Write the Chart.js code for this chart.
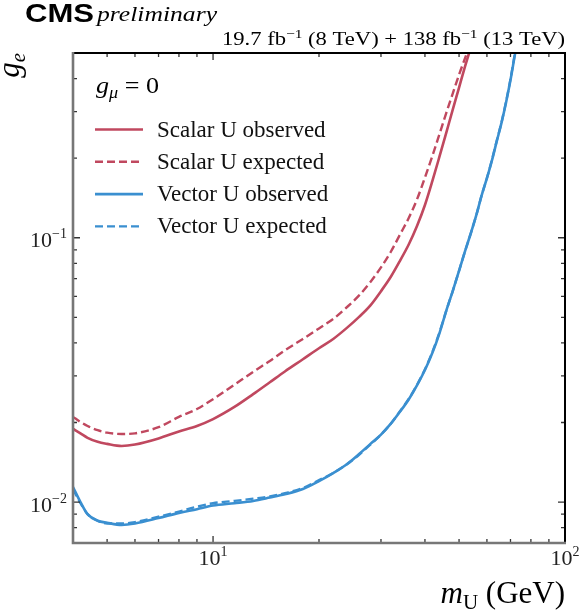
<!DOCTYPE html>
<html>
<head>
<meta charset="utf-8">
<script src="https://cdn.jsdelivr.net/npm/chart.js@4.4.1/dist/chart.umd.min.js"></script>
<style>
html, body { margin: 0; padding: 0; background: #fff; }
</style>
</head>
<body>
<canvas id="limits" width="580" height="614"></canvas>
<script>
// mass of U (GeV), shared by the four curves
var massU = [4.0, 4.2, 4.4, 4.7, 5.0, 5.5, 6.0, 7.0, 8.0, 9.0, 10, 11.5, 13, 14.5, 16, 18, 20, 22, 24, 26, 28, 30,
	32, 34, 36, 38, 40, 42, 44, 46, 48, 50, 52, 54, 56, 58, 60, 62, 64, 66, 68, 70, 72, 74];

// upper limits on g_e (null once the curve has left the plot)
var scalarObserved = [0.0189, 0.0182, 0.0175, 0.0169, 0.0166, 0.0163, 0.0165, 0.0174, 0.0185, 0.0194, 0.0206, 0.0229,
	0.0256, 0.0284, 0.0312, 0.0347, 0.0382, 0.0415, 0.0456, 0.0502, 0.0555, 0.0628, 0.0712, 0.0820, 0.0945, 0.111,
	0.133, 0.164, 0.203, 0.250, 0.306, 0.370, 0.445, 0.525, 0.62, null, null, null, null, null, null, null, null, null];
var scalarExpected = [0.0210, 0.0201, 0.0194, 0.0187, 0.0183, 0.0181, 0.0182, 0.0192, 0.0210, 0.0225, 0.0245, 0.0278,
	0.0311, 0.0342, 0.0375, 0.0414, 0.0454, 0.0494, 0.0546, 0.0605, 0.0680, 0.0772, 0.0885, 0.103, 0.119, 0.140,
	0.169, 0.204, 0.247, 0.297, 0.352, 0.414, 0.478, 0.55, 0.64, null, null, null, null, null, null, null, null, null];
var vectorObserved = [0.0114, 0.0100, 0.0090, 0.0085, 0.00835, 0.0082, 0.0083, 0.0087, 0.0091, 0.0094, 0.0097, 0.0099,
	0.0101, 0.0104, 0.0107, 0.0112, 0.0120, 0.0129, 0.0139, 0.0152, 0.0166, 0.0180, 0.0198, 0.0220, 0.0245, 0.0277,
	0.0316, 0.0367, 0.0436, 0.0530, 0.0630, 0.0750, 0.0890, 0.104, 0.122, 0.145, 0.168, 0.196, 0.232, 0.272, 0.325,
	0.395, 0.49, 0.60];
var vectorExpected = [0.0112, 0.0099, 0.0090, 0.0085, 0.0083, 0.0083, 0.0084, 0.0088, 0.0092, 0.0096, 0.0099, 0.0101,
	0.0103, 0.0105, 0.0108, 0.0113, 0.0121, 0.0129, 0.0139, 0.0151, 0.0165, 0.0180, 0.0198, 0.0221, 0.0246, 0.0278,
	0.0318, 0.0370, 0.0439, 0.0530, 0.0630, 0.0750, 0.0890, 0.104, 0.122, 0.145, 0.168, 0.197, 0.233, 0.273, 0.327,
	0.398, 0.495, 0.61];

// axis ticks: [mantissa, exponent] for the labelled decades
var xTickValues = [4, 5, 6, 7, 8, 9, 10, 20, 30, 40, 50, 60, 70, 80, 90, 100];
var xTickLabels = { 10: ["10", "1"], 100: ["10", "2"] };
var yTickValues = [0.007, 0.008, 0.009, 0.01, 0.02, 0.03, 0.04, 0.05, 0.06, 0.07, 0.08, 0.09, 0.1, 0.2, 0.3, 0.4, 0.5];
var yTickLabels = { 0.01: ["10", "\u22122"], 0.1: ["10", "\u22121"] };

var red = "#c0485f",
	blue = "#3a8fd0",
	serif = '"Liberation Serif", "DejaVu Serif", serif';

function toPoints(values) {
	return massU.map(function (m, i) { return { x: m, y: values[i] }; });
}

function isDecade(v) {
	var l = Math.log10(v);
	return Math.abs(l - Math.round(l)) < 1e-6;
}

// draw a row of text pieces (sub/superscripts); align left|center|right,
// fitWidth stretches the row horizontally to that width
function drawRuns(ctx, runs, x, y, align, fitWidth) {
	var total = 0;
	runs.forEach(function (r) { ctx.font = r[1]; total += ctx.measureText(r[0]).width; });
	var s = fitWidth ? fitWidth / total : 1,
		w = total * s,
		start = align === "right" ? x - w : (align === "center" ? x - w / 2 : x);
	ctx.save();
	ctx.translate(start, y);
	ctx.scale(s, 1);
	ctx.textAlign = "left";
	ctx.textBaseline = "alphabetic";
	var cx = 0;
	runs.forEach(function (r) {
		ctx.font = r[1];
		ctx.fillText(r[0], cx, r[2] || 0);
		cx += ctx.measureText(r[0]).width;
	});
	ctx.restore();
	return w;
}

// frame with inward ticks on all four sides, plus decade labels
var framePlugin = {
	id: "frame",
	afterDraw: function (chart) {
		var ctx = chart.ctx, a = chart.chartArea, sx = chart.scales.x, sy = chart.scales.y;
		ctx.save();
		ctx.strokeStyle = "#333";
		ctx.lineWidth = 1.3;
		ctx.beginPath();
		sx.ticks.forEach(function (t) {
			var p = sx.getPixelForValue(t.value), len = isDecade(t.value) ? 7 : 4;
			ctx.moveTo(p, a.bottom); ctx.lineTo(p, a.bottom - len);
			ctx.moveTo(p, a.top); ctx.lineTo(p, a.top + len);
		});
		sy.ticks.forEach(function (t) {
			var p = sy.getPixelForValue(t.value), len = isDecade(t.value) ? 7 : 4;
			ctx.moveTo(a.left, p); ctx.lineTo(a.left + len, p);
			ctx.moveTo(a.right, p); ctx.lineTo(a.right - len, p);
		});
		ctx.stroke();

		ctx.lineWidth = 2;
		ctx.strokeStyle = "#000";
		ctx.beginPath();
		ctx.moveTo(a.left, a.top); ctx.lineTo(a.right, a.top); ctx.lineTo(a.right, a.bottom);
		ctx.stroke();
		ctx.lineWidth = 2.6;
		ctx.strokeStyle = "#777";
		ctx.beginPath();
		ctx.moveTo(a.left, a.top - 1); ctx.lineTo(a.left, a.bottom); ctx.lineTo(a.right + 1, a.bottom);
		ctx.stroke();

		ctx.fillStyle = "#222";
		sx.ticks.forEach(function (t) {
			var lab = xTickLabels[t.value];
			if (!lab) return;
			drawRuns(ctx, [[lab[0], "22px " + serif], [lab[1], "14px " + serif, -9]],
				sx.getPixelForValue(t.value), a.bottom + 22, "center");
		});
		sy.ticks.forEach(function (t) {
			var lab = yTickLabels[t.value];
			if (!lab) return;
			drawRuns(ctx, [[lab[0], "22px " + serif], [lab[1], "14px " + serif, -9]],
				a.left - 6, sy.getPixelForValue(t.value) + 9.5, "right");
		});
		ctx.restore();
	}
};

// titles, axis labels and legend
var textPlugin = {
	id: "texts",
	afterDraw: function (chart) {
		var ctx = chart.ctx, a = chart.chartArea;
		ctx.save();
		ctx.fillStyle = "#000";

		// CMS preliminary
		drawRuns(ctx, [["CMS", 'bold 25px "Liberation Sans", Arial, sans-serif']], 25, 22, "left", 69);
		drawRuns(ctx, [["preliminary", "italic 22px " + serif]], 97, 21, "left", 120);

		// luminosity
		var lumi = [["19.7 fb", "19px " + serif], ["\u22121", "13px " + serif, -7],
			[" (8 TeV) + 138 fb", "19px " + serif], ["\u22121", "13px " + serif, -7], [" (13 TeV)", "19px " + serif]];
		drawRuns(ctx, lumi, a.right, 45, "right", 343);

		// axis titles
		drawRuns(ctx, [["m", "italic 31px " + serif], ["U", "21px " + serif, 6], [" (GeV)", "31px " + serif]],
			a.right, 603, "right");
		ctx.save();
		ctx.translate(19, a.top);
		ctx.rotate(-Math.PI / 2);
		drawRuns(ctx, [["g", "italic 31px " + serif], ["e", "italic 21px " + serif, 6]], 0, 0, "right");
		ctx.restore();

		// legend
		drawRuns(ctx, [["g", "italic 23px " + serif], ["\u03BC", "italic 16px " + serif, 5],
			[" = 0", "23px " + serif]], 96, 93, "left", 63);
		chart.data.datasets.forEach(function (ds, i) {
			var y = 129.5 + i * 32.3;
			ctx.save();
			ctx.strokeStyle = ds.borderColor;
			ctx.lineWidth = ds.borderWidth;
			ctx.setLineDash(ds.borderDash || []);
			ctx.beginPath();
			ctx.moveTo(95, y); ctx.lineTo(143, y);
			ctx.stroke();
			ctx.restore();
			ctx.fillStyle = "#111";
			drawRuns(ctx, [[ds.label, "23px " + serif]], 157, y + 7);
		});
		ctx.restore();
	}
};

var chart = new Chart(document.getElementById("limits"), {
	type: "line",
	data: {
		datasets: [
			{ label: "Scalar U observed", data: toPoints(scalarObserved), borderColor: red, borderWidth: 2.6 },
			{ label: "Scalar U expected", data: toPoints(scalarExpected), borderColor: red, borderWidth: 2.4, borderDash: [8, 4] },
			{ label: "Vector U observed", data: toPoints(vectorObserved), borderColor: blue, borderWidth: 2.6 },
			{ label: "Vector U expected", data: toPoints(vectorExpected), borderColor: blue, borderWidth: 2.4, borderDash: [8, 4] }
		]
	},
	options: {
		responsive: false,
		animation: false,
		layout: { padding: { top: 53, right: 15, left: 0, bottom: 0 } },
		elements: {
			point: { radius: 0 },
			line: { cubicInterpolationMode: "monotone", fill: false }
		},
		plugins: { legend: { display: false }, tooltip: { enabled: false } },
		scales: {
			x: {
				type: "logarithmic",
				min: 4,
				max: 100,
				afterBuildTicks: function (s) {
					s.ticks = xTickValues.map(function (v) { return { value: v, major: isDecade(v) }; });
				},
				afterFit: function (s) { s.height = 71; },
				grid: { display: false },
				border: { display: false },
				ticks: { display: false }
			},
			y: {
				type: "logarithmic",
				min: 0.007,
				max: 0.5,
				afterBuildTicks: function (s) {
					s.ticks = yTickValues.map(function (v) { return { value: v, major: isDecade(v) }; });
				},
				afterFit: function (s) { s.width = 73; },
				grid: { display: false },
				border: { display: false },
				ticks: { display: false }
			}
		}
	},
	plugins: [framePlugin, textPlugin]
});
</script>
</body>
</html>
